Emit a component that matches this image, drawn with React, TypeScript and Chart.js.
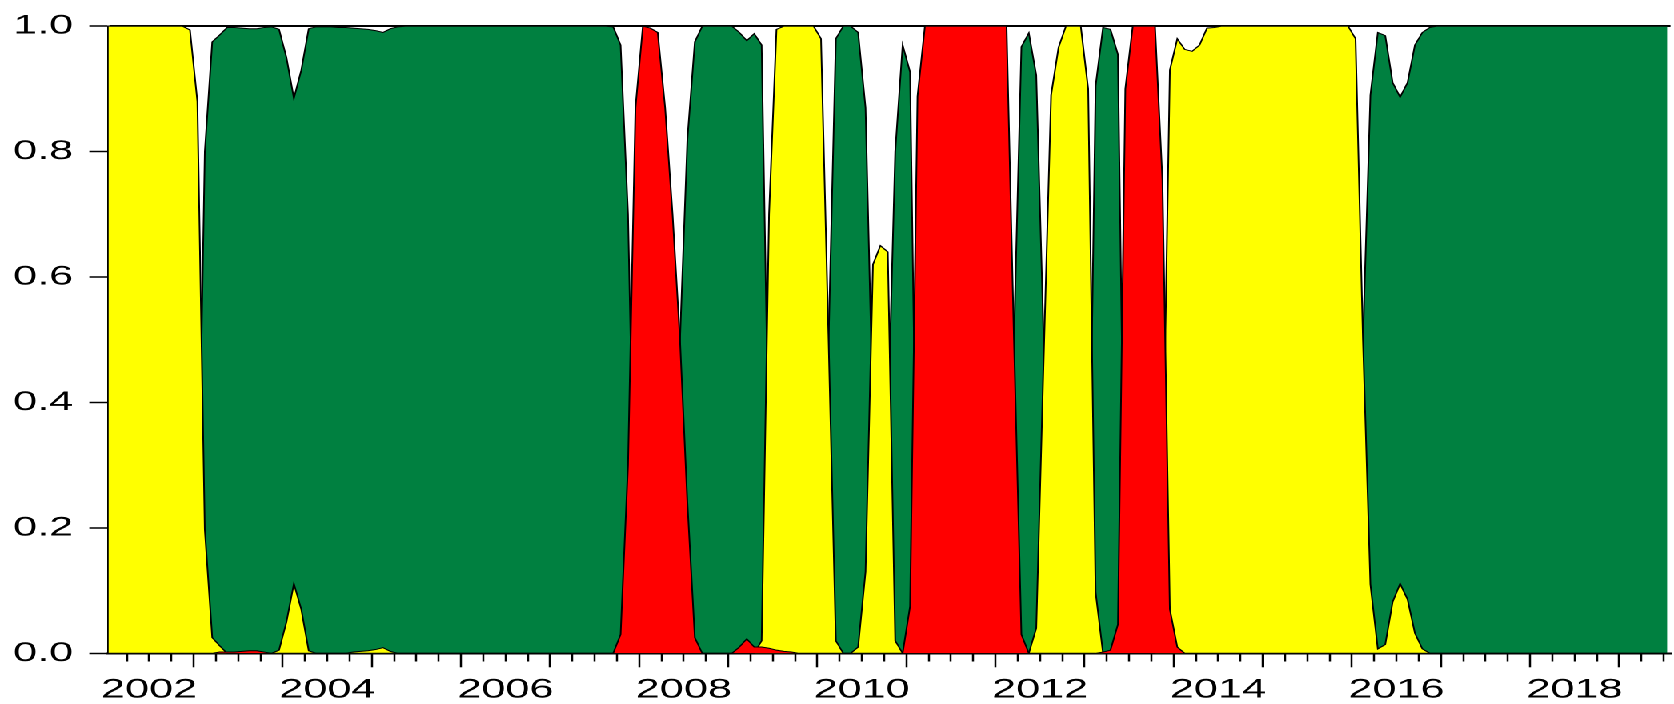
import React, { useEffect, useRef } from 'react';
import { Chart, registerables } from 'chart.js';

Chart.register(...registerables);

// Monthly smoothed regime probabilities, 2002M01 .. 2019M07 (one row per year)
const YELLOW: number[] = [
  1, 1, 1, 1, 1, 1, 1, 1, 1, 1, 1, 0.994, // 2002
  0.88, 0.197, 0.025, 0.012, 0, 0, 0, 0, 0, 0, 0, 0.005, // 2003
  0.05, 0.111, 0.07, 0.004, 0, 0, 0, 0, 0, 0.002, 0.003, 0.004, // 2004
  0.006, 0.009, 0.003, 0, 0, 0, 0, 0, 0, 0, 0, 0, // 2005
  0, 0, 0, 0, 0, 0, 0, 0, 0, 0, 0, 0, // 2006
  0, 0, 0, 0, 0, 0, 0, 0, 0, 0, 0, 0, // 2007
  0, 0, 0, 0, 0, 0, 0, 0, 0, 0, 0, 0, // 2008
  0, 0, 0, 0, 0.02, 0.7, 0.995, 1, 1, 1, 1, 1, // 2009
  0.98, 0.51, 0.02, 0, 0, 0.01, 0.13, 0.62, 0.65, 0.64, 0.02, 0, // 2010
  0, 0, 0, 0, 0, 0, 0, 0, 0, 0, 0, 0, // 2011
  0, 0, 0, 0, 0, 0.04, 0.47, 0.89, 0.966, 1, 1, 1, // 2012
  0.9, 0.097, 0, 0, 0, 0, 0, 0, 0, 0, 0.24, 0.93, // 2013
  0.98, 0.963, 0.96, 0.97, 0.997, 0.998, 1, 1, 1, 1, 1, 1, // 2014
  1, 1, 1, 1, 1, 1, 1, 1, 1, 1, 1, 1, // 2015
  0.98, 0.5, 0.11, 0.007, 0.014, 0.082, 0.111, 0.086, 0.032, 0.007, 0, 0, // 2016
  0, 0, 0, 0, 0, 0, 0, 0, 0, 0, 0, 0, // 2017
  0, 0, 0, 0, 0, 0, 0, 0, 0, 0, 0, 0, // 2018
  0, 0, 0, 0, 0, 0, 0, // 2019
];

const GREEN: number[] = [
  0, 0, 0, 0, 0, 0, 0, 0, 0, 0, 0, 0.006, // 2002
  0.12, 0.8, 0.975, 0.986, 0.998, 0.998, 0.997, 0.996, 0.996, 0.998, 0.999, 0.995, // 2003
  0.95, 0.885, 0.93, 0.996, 0.999, 0.999, 0.999, 0.998, 0.998, 0.997, 0.996, 0.995, // 2004
  0.993, 0.99, 0.996, 0.999, 1, 1, 1, 1, 1, 1, 1, 1, // 2005
  1, 1, 1, 1, 1, 1, 1, 1, 1, 1, 1, 1, // 2006
  1, 1, 1, 1, 1, 1, 1, 1, 0.999, 0.97, 0.7, 0.13, // 2007
  0, 0.003, 0.01, 0.13, 0.3, 0.5, 0.82, 0.975, 1, 1, 1, 1, // 2008
  1, 0.99, 0.977, 0.988, 0.97, 0.29, 0.005, 0, 0, 0, 0, 0, // 2009
  0.02, 0.49, 0.98, 1, 1, 0.99, 0.87, 0.38, 0.35, 0.36, 0.8, 0.97, // 2010
  0.927, 0.11, 0, 0, 0, 0, 0, 0, 0, 0, 0, 0, // 2011
  0, 0, 0.5, 0.967, 0.989, 0.922, 0.5, 0.1, 0.03, 0, 0, 0, // 2012
  0.1, 0.905, 0.998, 0.995, 0.955, 0.1, 0, 0, 0, 0, 0, 0, // 2013
  0.01, 0.035, 0.04, 0.03, 0.003, 0.002, 0, 0, 0, 0, 0, 0, // 2014
  0, 0, 0, 0, 0, 0, 0, 0, 0, 0, 0, 0, // 2015
  0.02, 0.5, 0.89, 0.99, 0.985, 0.91, 0.887, 0.91, 0.97, 0.99, 0.998, 1, // 2016
  1, 1, 1, 1, 1, 1, 1, 1, 1, 1, 1, 1, // 2017
  1, 1, 1, 1, 1, 1, 1, 1, 1, 1, 1, 1, // 2018
  1, 1, 1, 1, 1, 1, 1, // 2019
];

const RED: number[] = [
  0, 0, 0, 0, 0, 0, 0, 0, 0, 0, 0, 0, // 2002
  0, 0, 0, 0.002, 0.002, 0.002, 0.003, 0.004, 0.004, 0.002, 0, 0, // 2003
  0, 0, 0, 0, 0, 0, 0, 0, 0, 0, 0, 0, // 2004
  0, 0, 0, 0, 0, 0, 0, 0, 0, 0, 0, 0, // 2005
  0, 0, 0, 0, 0, 0, 0, 0, 0, 0, 0, 0, // 2006
  0, 0, 0, 0, 0, 0, 0, 0, 0, 0.03, 0.3, 0.87, // 2007
  1, 0.997, 0.99, 0.87, 0.7, 0.5, 0.24, 0.025, 0, 0, 0, 0, // 2008
  0, 0.01, 0.023, 0.01, 0.01, 0.008, 0.005, 0.003, 0.002, 0, 0, 0, // 2009
  0, 0, 0, 0, 0, 0, 0, 0, 0, 0, 0, 0, // 2010
  0.075, 0.888, 1, 1, 1, 1, 1, 1, 1, 1, 1, 1, // 2011
  1, 1, 0.5, 0.03, 0, 0, 0, 0, 0, 0, 0, 0, // 2012
  0, 0, 0.002, 0.005, 0.046, 0.9, 1, 1, 1, 1, 0.755, 0.07, // 2013
  0.01, 0, 0, 0, 0, 0, 0, 0, 0, 0, 0, 0, // 2014
  0, 0, 0, 0, 0, 0, 0, 0, 0, 0, 0, 0, // 2015
  0, 0, 0, 0, 0, 0, 0, 0, 0, 0, 0, 0, // 2016
  0, 0, 0, 0, 0, 0, 0, 0, 0, 0, 0, 0, // 2017
  0, 0, 0, 0, 0, 0, 0, 0, 0, 0, 0, 0, // 2018
  0, 0, 0, 0, 0, 0, 0, // 2019
];

const START_YEAR = 2002;
const X_LABELS = ['2002', '2004', '2006', '2008', '2010', '2012', '2014', '2016', '2018'];
const Y_TICKS = [0, 0.2, 0.4, 0.6, 0.8, 1.0];

const COLORS = { yellow: '#FFFF00', green: '#008040', red: '#FF0000' };

const CANVAS_W = 1046;
const CANVAS_H = 704;
const PAGE_W = 1674;
const X_MAX = 210.43;

export default function App() {
  const ref = useRef<HTMLCanvasElement>(null);

  useEffect(() => {
    const canvas = ref.current;
    if (!canvas) return;
    const toPts = (arr: number[]) => arr.map((v, i) => ({ x: i, y: v }));
    const n = GREEN.length;
    const quarterTicks: number[] = [];
    for (let b = 2.5; b < n; b += 3) quarterTicks.push(b);
    const labelAt = new Map<number, string>();
    X_LABELS.forEach((l) => labelAt.set((Number(l) - START_YEAR) * 12 + 5.5, l));
    const isMajor = (v: number) => Math.abs((v + 0.5) % 12) < 1e-6;
    const font = { family: "'Liberation Sans', Arial, sans-serif", size: 27 };

    const ds = (label: string, data: number[], color: string) => ({
      label,
      data: toPts(data),
      backgroundColor: color,
      borderColor: '#000000',
      borderWidth: 1,
      fill: 'origin' as const,
      pointRadius: 0,
      tension: 0,
    });

    const chart = new Chart(canvas, {
      type: 'line',
      data: {
        datasets: [
          ds('Regime 3', RED, COLORS.red),
          ds('Regime 1', YELLOW, COLORS.yellow),
          ds('Regime 2', GREEN, COLORS.green),
        ],
      },
      options: {
        responsive: false,
        animation: false,
        devicePixelRatio: 2,
        layout: { padding: { top: 25.5, left: 0, right: 0, bottom: 0 } },
        plugins: { legend: { display: false }, tooltip: { enabled: false } },
        scales: {
          x: {
            type: 'linear',
            position: 'bottom',
            min: 0,
            max: X_MAX,
            z: 1,
            afterBuildTicks: (s: any) => {
              s.ticks = quarterTicks.map((v) => ({ value: v }));
            },
            afterFit: (s: any) => {
              s.height = CANVAS_H - 653.3;
            },
            grid: {
              drawOnChartArea: false,
              drawTicks: true,
              tickLength: 14,
              tickColor: '#000000',
              tickWidth: 1.25,
              tickBorderDash: (c: any) => (c.tick && isMajor(c.tick.value) ? [] : [7, 40]),
            },
            border: { display: true, color: '#000000', width: 2 },
            ticks: {
              autoSkip: false,
              maxRotation: 0,
              minRotation: 0,
              padding: 6.5,
              color: '#000000',
              font,
              callback: (v: any) => labelAt.get(Number(v)) ?? '',
            },
          },
          y: {
            type: 'linear',
            position: 'left',
            min: 0,
            max: 1,
            z: 1,
            afterBuildTicks: (s: any) => {
              s.ticks = Y_TICKS.map((v) => ({ value: v }));
            },
            afterFit: (s: any) => {
              s.width = 67.7;
            },
            grid: {
              drawOnChartArea: true,
              drawTicks: true,
              tickLength: 11.9,
              color: (c: any) => (c.tick && c.tick.value === 1 ? '#000000' : 'rgba(0,0,0,0)'),
              lineWidth: (c: any) => (c.tick && c.tick.value === 1 ? 2 : 0),
              tickColor: '#000000',
              tickWidth: 1.5,
            },
            border: { display: true, color: '#000000', width: 1.25 },
            ticks: {
              padding: 10,
              color: '#000000',
              font,
              callback: (v: any) => Number(v).toFixed(1),
            },
          },
        },
      },
    } as any);

    return () => chart.destroy();
  }, []);

  return (
    <div
      style={{
        position: 'absolute',
        left: 0,
        top: 0,
        width: CANVAS_W,
        height: CANVAS_H,
        transform: `scaleX(${PAGE_W / CANVAS_W})`,
        transformOrigin: '0 0',
        background: '#ffffff',
      }}
    >
      <canvas
        ref={ref}
        width={CANVAS_W}
        height={CANVAS_H}
        style={{ display: 'block', width: CANVAS_W, height: CANVAS_H }}
      />
    </div>
  );
}
